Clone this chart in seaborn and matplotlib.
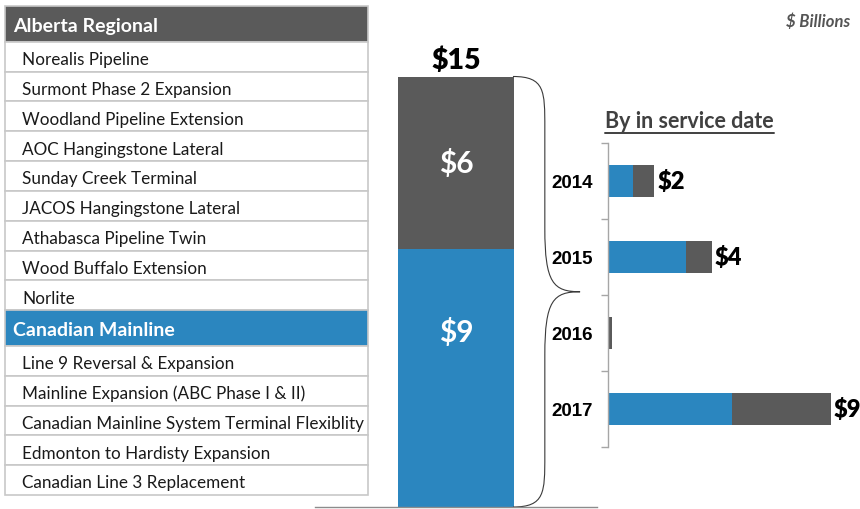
import matplotlib
matplotlib.use('Agg')
from matplotlib import pyplot as plt
from matplotlib.patches import Rectangle, PathPatch
from matplotlib.path import Path
from matplotlib.lines import Line2D
import matplotlib.transforms as mtransforms
import seaborn as sns

# project lists shown in the left-hand table
alberta_projects = ['Norealis Pipeline', 'Surmont Phase 2 Expansion', 'Woodland Pipeline Extension',
                    'AOC Hangingstone Lateral', 'Sunday Creek Terminal', 'JACOS Hangingstone Lateral',
                    'Athabasca Pipeline Twin', 'Wood Buffalo Extension', 'Norlite']
mainline_projects = ['Line 9 Reversal & Expansion', 'Mainline Expansion (ABC Phase I & II)',
                     'Canadian Mainline System Terminal Flexiblity', 'Edmonton to Hardisty Expansion',
                     'Canadian Line 3 Replacement']

# totals ($ billions)
alberta_total = 6
mainline_total = 9

# split by in service date ($ billions)
years = ['2014', '2015', '2016', '2017']
year_mainline = [1.0, 3.1, 0.0, 4.95]
year_alberta = [0.85, 1.05, 0.15, 3.95]

BLUE = '#2b86bf'
GREY = '#5a5a5a'
BORDER = '#c8c8c8'
CAL = 'Lato'      # stand-in for Calibri
ARIAL = 'Liberation Sans'

sns.set_theme(style='white')
plt.rcParams['font.family'] = ['Lato', 'DejaVu Sans']

W, H = 860, 510
fig = plt.figure(figsize=(8.6, 5.1), dpi=100)

# ---- left table ----
ax_t = fig.add_axes([5 / W, (H - 496) / H, 363 / W, 489 / H])
rows = [('Alberta Regional', GREY)] + [(p, None) for p in alberta_projects] \
     + [('Canadian Mainline', BLUE)] + [(p, None) for p in mainline_projects]
hdr_h = 1.2
heights = [hdr_h if c else 1.0 for _, c in rows]
ax_t.set_xlim(0, 1)
ax_t.set_ylim(sum(heights), 0)
ax_t.axis('off')
y = 0
for (name, col), h in zip(rows, heights):
    ax_t.add_patch(Rectangle((0, y), 1, h, facecolor=col if col else 'white',
                             edgecolor=BORDER, lw=1.2, clip_on=False))
    if col:
        ax_t.text(8 / 363, y + h / 2 + 0.05, name, color='white', fontsize=14, fontweight='bold',
                  family=CAL, va='center', ha='left')
    else:
        ax_t.text(17 / 363, y + h / 2 + 0.08, name, color='#1a1a1a', fontsize=12.3,
                  family=CAL, va='center', ha='left')
    y += h

# ---- big stacked bar ----
ax_b = fig.add_axes([315 / W, 2 / H, 282 / W, 506 / H])
ax_b.patch.set_alpha(0)
total = alberta_total + mainline_total
sns.barplot(x=['all'], y=[total], color=GREY, width=0.41, saturation=1, linewidth=0, ax=ax_b)
sns.barplot(x=['all'], y=[mainline_total], color=BLUE, width=0.41, saturation=1, linewidth=0, ax=ax_b)
ax_b.set_xlim(-0.5, 0.5)
ax_b.set_ylim(0, 506 / 28.7)
ax_b.set_xticks([])
ax_b.set_yticks([])
ax_b.set_xlabel('')
ax_b.set_ylabel('')
for s in ['top', 'left', 'right']:
    ax_b.spines[s].set_visible(False)
ax_b.spines['bottom'].set_color('#8c8c8c')
ax_b.spines['bottom'].set_linewidth(1)
ax_b.text(0, total + 0.6, f'${total}', ha='center', va='center', fontsize=20.5,
          fontweight='heavy', family=CAL, color='black')
ax_b.text(0, mainline_total + alberta_total / 2, f'${alberta_total}', ha='center', va='center',
          fontsize=21.5, fontweight='bold', family=CAL, color='white')
ax_b.text(0, mainline_total * 0.68, f'${mainline_total}', ha='center', va='center',
          fontsize=21.5, fontweight='bold', family=CAL, color='white')

# curly brace to the right of the bar
tr = mtransforms.blended_transform_factory(ax_b.transAxes, ax_b.transData)
x0, x1, xt = 0.702, 0.815, 0.94
mid = total / 2
verts = [(x0, total), (x1, total), (x1, total - 0.5), (x1, total - 1.8),
         (x1, mid + 2.2),
         (x1, mid + 0.3), (x1 + 0.03, mid), (xt, mid),
         (x1 + 0.03, mid), (x1, mid - 0.3), (x1, mid - 2.2),
         (x1, 1.8),
         (x1, 0.5), (x1, 0), (x0, 0)]
codes = [Path.MOVETO, Path.CURVE4, Path.CURVE4, Path.CURVE4,
         Path.LINETO,
         Path.CURVE4, Path.CURVE4, Path.CURVE4,
         Path.CURVE4, Path.CURVE4, Path.CURVE4,
         Path.LINETO,
         Path.CURVE4, Path.CURVE4, Path.CURVE4]
ax_b.add_patch(PathPatch(Path(verts, codes), facecolor='none', edgecolor='#3a3a3a',
                         lw=0.8, transform=tr, clip_on=False))

# ---- by in service date ----
ax_r = fig.add_axes([608 / W, (H - 448) / H, 252 / W, 304 / H])
ax_r.patch.set_alpha(0)
year_total = [a + b for a, b in zip(year_mainline, year_alberta)]
sns.barplot(x=year_total, y=years, orient='h', color=GREY, width=0.42, saturation=1,
            linewidth=0, ax=ax_r)
sns.barplot(x=year_mainline, y=years, orient='h', color=BLUE, width=0.42, saturation=1,
            linewidth=0, ax=ax_r)
ax_r.set_xlim(0, 252 / 25)
ax_r.set_ylim(3.5, -0.5)
ax_r.set_xticks([])
ax_r.set_xlabel('')
ax_r.set_ylabel('')
for s in ['top', 'bottom', 'right']:
    ax_r.spines[s].set_visible(False)
ax_r.spines['left'].set_color('#a6a6a6')
ax_r.spines['left'].set_linewidth(1)
ax_r.set_yticks([-0.5, 0.5, 1.5, 2.5, 3.5], minor=True)
ax_r.tick_params(axis='y', which='minor', length=5, width=1, color='#a6a6a6', left=True)
ax_r.tick_params(axis='y', which='major', length=0, pad=11)
for lab in ax_r.get_yticklabels():
    lab.set_family(ARIAL)
    lab.set_fontweight('bold')
    lab.set_fontsize(13.5)
    lab.set_color('black')
for i, t in enumerate(year_total):
    if t >= 0.5:
        ax_r.text(t + 0.12, i, f'${round(t)}', ha='left', va='center', fontsize=17,
                  fontweight='heavy', family=CAL, color='black')

title = fig.text(605 / W, 1 - 122 / H, 'By in service date', ha='left', va='center',
                 fontsize=15.5, fontweight='bold', family=CAL, color='#404040')
fig.text(850 / W, 1 - 22 / H, '$ Billions', ha='right', va='center', fontsize=12,
         fontweight='bold', style='italic', family=CAL, color='#555555')

# underline the sub-heading
fig.canvas.draw()
bb = title.get_window_extent()
fig.add_artist(Line2D([bb.x0 / W, bb.x1 / W], [(bb.y0 - 1) / H, (bb.y0 - 1) / H],
                      transform=fig.transFigure, color='#404040', lw=1.4))

fig.savefig('out.png', dpi=100)
